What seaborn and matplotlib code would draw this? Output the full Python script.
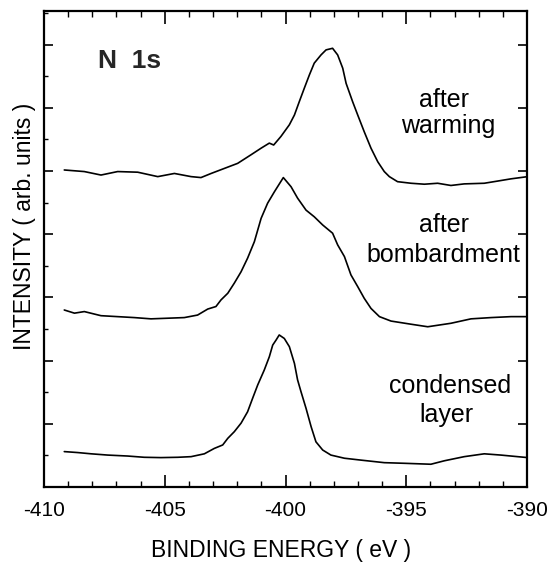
import matplotlib
matplotlib.use("Agg")
import matplotlib.pyplot as plt
from matplotlib.ticker import MultipleLocator
import seaborn as sns
import pandas as pd

# ---- data (binding energy in eV, intensity in arb. units) ----
E_warm = [-409.16, -408.33, -407.64, -406.95, -406.12, -405.29, -404.60, -403.91, -403.50, -403.08,
          -402.53, -401.98, -401.43, -401.01, -400.67, -400.49, -400.19, -399.84, -399.63, -399.43,
          -399.22, -399.01, -398.81, -398.53, -398.32, -398.05, -397.84, -397.63, -397.49, -397.22,
          -397.01, -396.74, -396.46, -396.18, -395.91, -395.70, -395.36, -394.80, -394.25, -393.70,
          -393.15, -392.60, -391.77, -391.21, -390.66, -389.97]
I_warm = [10.03, 9.98, 9.87, 9.98, 9.96, 9.82, 9.92, 9.82, 9.79, 9.92,
          10.08, 10.24, 10.51, 10.72, 10.88, 10.82, 11.09, 11.46, 11.77, 12.19,
          12.62, 13.04, 13.41, 13.67, 13.83, 13.88, 13.67, 13.25, 12.77, 12.19,
          11.77, 11.24, 10.72, 10.29, 9.98, 9.82, 9.66, 9.61, 9.58, 9.61,
          9.54, 9.59, 9.61, 9.68, 9.75, 9.82]

E_bomb = [-409.16, -408.74, -408.33, -407.64, -406.95, -406.26, -405.57, -404.88, -404.19, -403.64,
          -403.22, -402.88, -402.67, -402.39, -402.12, -401.84, -401.57, -401.29, -401.01, -400.74,
          -400.46, -400.09, -399.77, -399.50, -399.15, -398.81, -398.46, -398.05, -397.84, -397.56,
          -397.29, -397.01, -396.74, -396.46, -396.11, -395.63, -394.80, -394.11, -393.15, -392.32,
          -391.49, -390.66, -389.97]
I_bomb = [5.60, 5.50, 5.55, 5.42, 5.39, 5.36, 5.32, 5.34, 5.36, 5.44,
          5.63, 5.71, 5.92, 6.13, 6.45, 6.81, 7.24, 7.76, 8.50, 8.98,
          9.34, 9.79, 9.50, 9.14, 8.76, 8.55, 8.29, 8.03, 7.66, 7.29,
          6.71, 6.34, 5.97, 5.65, 5.39, 5.25, 5.15, 5.07, 5.18, 5.32,
          5.36, 5.39, 5.39]

E_cond = [-409.16, -408.61, -408.05, -407.36, -406.54, -405.85, -405.16, -404.46, -403.91, -403.36,
          -402.95, -402.60, -402.39, -402.12, -401.84, -401.57, -401.36, -401.15, -400.88, -400.67,
          -400.53, -400.39, -400.26, -400.05, -399.84, -399.63, -399.50, -399.36, -399.15, -398.94,
          -398.74, -398.46, -398.12, -397.56, -396.87, -395.91, -395.08, -393.98, -393.42, -392.60,
          -391.77, -391.08, -390.39, -389.97]
I_cond = [1.12, 1.09, 1.05, 1.01, 0.98, 0.94, 0.93, 0.94, 0.96, 1.05,
          1.22, 1.33, 1.54, 1.75, 2.02, 2.38, 2.81, 3.23, 3.70, 4.12,
          4.49, 4.65, 4.81, 4.70, 4.44, 3.91, 3.39, 3.02, 2.49, 1.91,
          1.43, 1.17, 1.01, 0.91, 0.85, 0.77, 0.75, 0.72, 0.83, 0.96,
          1.05, 1.01, 0.96, 0.93]

x_ticks = [-410, -405, -400, -395, -390]
x_tick_labels = ["-410", "-405", "-400", "-395", "-390"]

# ---- style ----
sns.set_theme(style="ticks")
plt.rcParams["font.family"] = ["Liberation Sans", "DejaVu Sans"]
plt.rcParams["axes.unicode_minus"] = False

fig = plt.figure(figsize=(5.48, 5.64), dpi=100)
ax = fig.add_axes([44 / 548, 1 - 487 / 564, (527 - 44) / 548, (487 - 11) / 564])

for E, I in [(E_warm, I_warm), (E_bomb, I_bomb), (E_cond, I_cond)]:
    df = pd.DataFrame({"E": E, "I": I})
    sns.lineplot(data=df, x="E", y="I", ax=ax, color="black", linewidth=1.2,
                 estimator=None, sort=False)

ax.set_xlim(-410, -390)
ax.set_ylim(0, 15.06)

for s in ax.spines.values():
    s.set_visible(True)
    s.set_linewidth(1.6)
    s.set_color("black")

ax.set_xticks(x_ticks)
ax.set_xticklabels(x_tick_labels)
ax.xaxis.set_minor_locator(MultipleLocator(1))
ax.yaxis.set_major_locator(MultipleLocator(2))
ax.yaxis.set_minor_locator(MultipleLocator(1))

ax.tick_params(axis="x", which="major", direction="in", top=True, bottom=True,
               length=9, width=1.2, color="black", labelsize=15, pad=10, labelcolor="black")
ax.tick_params(axis="x", which="minor", direction="in", top=True, bottom=True,
               length=4.5, width=1.0, color="black")
ax.tick_params(axis="y", which="major", direction="in", left=True, right=True,
               length=6.5, width=1.2, color="black", labelleft=False)
ax.tick_params(axis="y", which="minor", direction="in", left=True, right=False,
               length=3, width=1.0, color="black")

ax.set_xlabel("BINDING ENERGY ( eV )", fontsize=16.5, color="black", va="top")
ax.xaxis.set_label_coords(0.49, -0.11)
ax.set_ylabel("INTENSITY ( arb. units )", fontsize=16.5, color="black", va="center")
ax.yaxis.set_label_coords(-0.04, 0.548)

ax.text(-407.76, 13.25, "N  1s", fontsize=19, fontweight="bold", ha="left", va="baseline")

lab_kw = dict(fontsize=18, ha="center", va="baseline", color="black")
ax.text(-393.45, 12.03, "after", **lab_kw)
ax.text(-393.27, 11.20, "warming", **lab_kw)
ax.text(-393.45, 8.08, "after", **lab_kw)
ax.text(-393.45, 7.13, "bombardment", **lab_kw)
ax.text(-393.19, 2.97, "condensed", **lab_kw)
ax.text(-393.35, 2.07, "layer", **lab_kw)

fig.savefig("out.png", dpi=100, facecolor="white")
